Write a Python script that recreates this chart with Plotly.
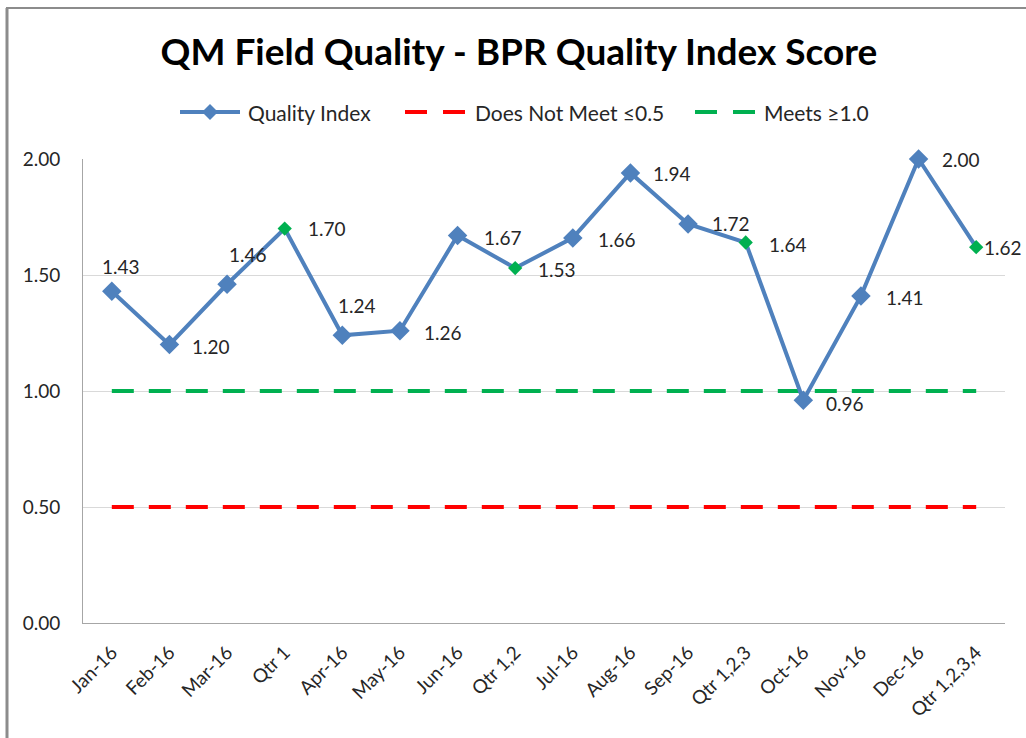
import plotly.graph_objects as go

# ---- data -------------------------------------------------------------
periods = ["Jan-16", "Feb-16", "Mar-16", "Qtr 1", "Apr-16", "May-16", "Jun-16",
           "Qtr 1,2", "Jul-16", "Aug-16", "Sep-16", "Qtr 1,2,3", "Oct-16",
           "Nov-16", "Dec-16", "Qtr 1,2,3,4"]
quality_index = [1.43, 1.20, 1.46, 1.70, 1.24, 1.26, 1.67, 1.53, 1.66, 1.94,
                 1.72, 1.64, 0.96, 1.41, 2.00, 1.62]
does_not_meet = [0.5] * len(periods)
meets = [1.0] * len(periods)
y_ticks = [0.0, 0.5, 1.0, 1.5, 2.0]

# label offsets (pixels) relative to each point
label_dx = [9, 42, 21, 42, 15, 43, 45, 42, 44, 42, 43, 42, 42, 44, 42, 27]
label_dy = [-25, 2, -30, 0, -30, 2, 2, 1, 2, 1, 0, 2, 3, 2, 0, 0]

# ---- styling ----------------------------------------------------------
W, H = 1026, 738
L, R, T, B = 83, 21, 159, 115
FONT = "Lato"
BLUE = "#4f81bd"
GREEN = "#00b050"
RED = "#ff0000"
is_qtr = [p.startswith("Qtr") for p in periods]
marker_colors = [GREEN if q else BLUE for q in is_qtr]
marker_sizes = [11 if q else 15 for q in is_qtr]


def px_x(x):
    return (x - L) / (W - L - R)


def px_y(y):
    return (H - B - y) / (H - B - T)


fig = go.Figure()

fig.add_trace(go.Scatter(
    x=periods, y=does_not_meet, mode="lines", name="Does Not Meet ≤0.5",
    line=dict(color=RED, width=4, dash="22px,15px"), hoverinfo="skip"))
fig.add_trace(go.Scatter(
    x=periods, y=meets, mode="lines", name="Meets ≥1.0",
    line=dict(color=GREEN, width=4, dash="22px,15px"), hoverinfo="skip"))
fig.add_trace(go.Scatter(
    x=periods, y=quality_index, mode="lines+markers", name="Quality Index",
    line=dict(color=BLUE, width=4),
    marker=dict(symbol="diamond", size=marker_sizes, color=marker_colors,
                opacity=1, line=dict(width=0)),
    cliponaxis=False))

annotations = []
for p, v, dx, dy in zip(periods, quality_index, label_dx, label_dy):
    annotations.append(dict(
        x=p, y=v, xref="x", yref="y", text=f"{v:.2f}", showarrow=False,
        xanchor="center", yanchor="middle", xshift=dx, yshift=-dy,
        font=dict(family=FONT, size=19, color="#262626")))

# legend drawn by hand
legend_y = px_y(112)
shapes = []
legend_items = [
    (180, 240, BLUE, "solid", "Quality Index", 246),
    (405, 465, RED, "dash", "Does Not Meet ≤0.5", 473),
    (695, 755, GREEN, "dash", "Meets ≥1.0", 762),
]
for x0, x1, col, style, label, tx in legend_items:
    if style == "solid":
        shapes.append(dict(type="line", xref="paper", yref="paper",
                           x0=px_x(x0), x1=px_x(x1), y0=legend_y, y1=legend_y,
                           line=dict(color=col, width=4)))
        cx = (x0 + x1) / 2
        shapes.append(dict(type="path", xref="paper", yref="paper",
                           path=(f"M {px_x(cx - 8)} {legend_y} L {px_x(cx)} {px_y(104)} "
                                 f"L {px_x(cx + 8)} {legend_y} L {px_x(cx)} {px_y(120)} Z"),
                           fillcolor=col, line=dict(width=0)))
    else:
        for a, b in ((x0, x0 + 22), (x1 - 22, x1)):
            shapes.append(dict(type="line", xref="paper", yref="paper",
                               x0=px_x(a), x1=px_x(b), y0=legend_y, y1=legend_y,
                               line=dict(color=col, width=4)))
    annotations.append(dict(
        x=px_x(tx), y=legend_y, xref="paper", yref="paper", text=label,
        showarrow=False, xanchor="left", yanchor="middle",
        font=dict(family=FONT, size=21, color="#262626")))

# chart frame (left and top edges)
shapes.append(dict(type="line", xref="paper", yref="paper",
                   x0=px_x(7), x1=px_x(7), y0=px_y(8), y1=px_y(738),
                   line=dict(color="#8c8c8c", width=3)))
shapes.append(dict(type="line", xref="paper", yref="paper",
                   x0=px_x(6), x1=px_x(1026), y0=px_y(8), y1=px_y(8),
                   line=dict(color="#8c8c8c", width=2)))

fig.update_layout(
    width=W, height=H,
    margin=dict(l=L, r=R, t=T, b=B),
    paper_bgcolor="white", plot_bgcolor="white",
    showlegend=False,
    title=dict(text="<b>QM Field Quality - BPR Quality Index Score</b>",
               x=519 / W, xanchor="center", y=1 - 52 / H, yanchor="middle",
               font=dict(family=FONT, size=37, color="black")),
    xaxis=dict(type="category", range=[-0.5, len(periods) - 0.5],
               showgrid=False, showline=True, linecolor="#a6a6a6", linewidth=1,
               tickangle=-45, ticks="", ticklabelstandoff=10,
               tickfont=dict(family=FONT, size=19, color="#262626")),
    yaxis=dict(range=[0, 2], tickvals=y_ticks, tickformat=".2f",
               showgrid=True, gridcolor="#d9d9d9", gridwidth=1,
               showline=True, linecolor="#a6a6a6", linewidth=1,
               zeroline=False, ticks="", ticklabelstandoff=18,
               tickfont=dict(family=FONT, size=19, color="#262626")),
    annotations=annotations,
    shapes=shapes,
)

fig.write_html("out.html")
